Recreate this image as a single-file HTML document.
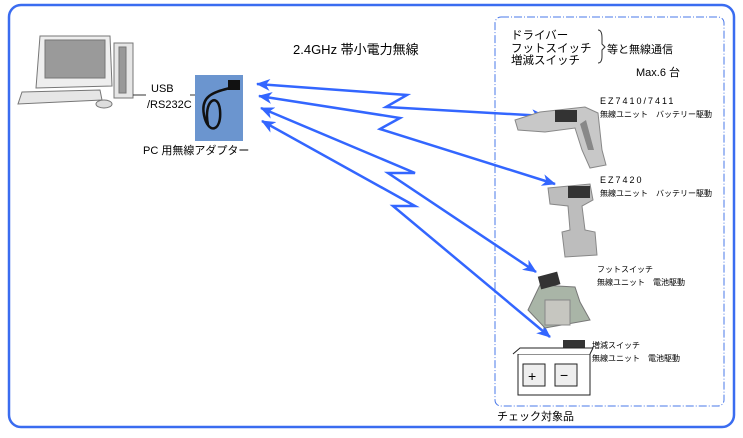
<!DOCTYPE html>
<html><head><meta charset="utf-8"><style>
html,body{margin:0;padding:0;background:#fff;}
svg{display:block;font-family:"Liberation Sans","Noto Sans CJK JP",sans-serif;}
</style></head><body>
<svg width="743" height="438" viewBox="0 0 743 438" xmlns="http://www.w3.org/2000/svg">
<defs>
<marker id="ah" viewBox="0 0 14 12" refX="13" refY="6" markerWidth="14" markerHeight="12" markerUnits="userSpaceOnUse" orient="auto-start-reverse">
<path d="M0,0 L14,6 L0,12 L4,6 Z" fill="#3366ff"/>
</marker>
</defs>
<rect x="0" y="0" width="743" height="438" fill="#fff"/>
<rect x="9" y="5" width="725" height="422" rx="12" fill="none" stroke="#3a6cf0" stroke-width="2.5"/>
<rect x="495" y="17" width="229" height="389" rx="6" fill="none" stroke="#4a78e8" stroke-width="1" stroke-dasharray="8,2,1,2"/>

<!-- computer -->
<g stroke="#777" stroke-width="1">
<path d="M40,36 L110,36 L112,86 L36,88 Z" fill="#eee"/>
<rect x="45" y="40" width="60" height="38" fill="#9a9a9a"/>
<path d="M22,92 L100,90 L102,100 L18,104 Z" fill="#e6e6e6"/>
<ellipse cx="104" cy="104" rx="8" ry="4" fill="#ddd"/>
<rect x="114" y="43" width="19" height="55" fill="#e6e6e6"/>
<rect x="119" y="47" width="7" height="46" fill="#999"/>
</g>
<line x1="133" y1="95" x2="146" y2="95" stroke="#333"/>
<text x="151" y="92" font-size="11">USB</text>
<text x="147" y="108" font-size="11">/RS232C</text>
<line x1="190" y1="95" x2="200" y2="95" stroke="#333"/>

<!-- adapter -->
<rect x="195" y="75" width="48" height="66" fill="#6b95cf"/>
<rect x="228" y="80" width="12" height="10" fill="#111"/>
<path d="M230,88 C215,92 200,95 204,115 C208,135 222,132 220,110 C218,92 203,100 208,125" fill="none" stroke="#111" stroke-width="2.5"/>
<text x="143" y="154" font-size="11">PC 用無線アダプター</text>

<text x="293" y="54" font-size="13">2.4GHz 帯小電力無線</text>

<!-- arrows -->
<g fill="none" stroke="#3366ff" stroke-width="2.5" marker-start="url(#ah)" marker-end="url(#ah)">
<path d="M257,84 L407,95 L386,107 L545,116"/>
<path d="M259,96 L400,118 L380,129 L555,184"/>
<path d="M261,108 L415,173 L388,173 L536,272"/>
<path d="M262,121 L415,206 L393,206 L550,337"/>
</g>

<!-- top right text -->
<text x="511" y="39" font-size="11.5">ドライバー</text>
<text x="511" y="52" font-size="11.5">フットスイッチ</text>
<text x="511" y="64" font-size="11.5">増減スイッチ</text>
<path d="M598,30 Q602,30 602,38 L602,44 L605,47 L602,50 L602,56 Q602,63 598,63" fill="none" stroke="#333"/>
<text x="607" y="53" font-size="11">等と無線通信</text>
<text x="636" y="76" font-size="11">Max.6 台</text>

<!-- driver 1 -->
<path d="M515,120 L540,112 L585,107 L598,113 L602,150 L606,165 L590,168 L582,150 L575,128 L545,132 L518,130 Z" fill="#c8c8c8" stroke="#888"/>
<path d="M586,120 L594,150 L588,150 L580,124 Z" fill="#888"/>
<rect x="555" y="110" width="22" height="12" fill="#333"/>
<text x="600" y="104" font-size="9" letter-spacing="2">EZ7410/7411</text>
<text x="600" y="117" font-size="8">無線ユニット　バッテリー駆動</text>

<!-- driver 2 -->
<path d="M548,188 L590,184 L593,200 L582,206 L585,230 L595,232 L597,255 L565,257 L562,232 L570,230 L568,206 L550,204 Z" fill="#bdbdbd" stroke="#888"/>
<rect x="568" y="186" width="22" height="12" fill="#333"/>
<text x="600" y="183" font-size="9" letter-spacing="2">EZ7420</text>
<text x="600" y="196" font-size="8">無線ユニット　バッテリー駆動</text>

<!-- foot switch -->
<path d="M528,310 L540,285 L575,287 L580,302 L590,320 L545,328 Z" fill="#a9b5a7" stroke="#777"/>
<rect x="545" y="300" width="25" height="25" fill="#c6c6c0" stroke="#888"/>
<rect x="539" y="274" width="20" height="13" fill="#333" transform="rotate(-15 549 280)"/>
<text x="597" y="272" font-size="8">フットスイッチ</text>
<text x="597" y="285" font-size="8">無線ユニット　電池駆動</text>

<!-- +/- switch -->
<rect x="563" y="340" width="22" height="10" fill="#333"/>
<path d="M518,354 L590,354 L590,395 L518,395 Z" fill="#fff" stroke="#222"/>
<path d="M513,354 L520,348 L593,348 L590,354" fill="#fff" stroke="#222"/>
<rect x="523" y="364" width="22" height="22" fill="#eee" stroke="#222"/>
<rect x="555" y="364" width="22" height="22" fill="#eee" stroke="#222"/>
<text x="528" y="381" font-size="14">+</text>
<text x="560" y="380" font-size="14">−</text>
<text x="592" y="348" font-size="8">増減スイッチ</text>
<text x="592" y="361" font-size="8">無線ユニット　電池駆動</text>

<text x="497" y="420" font-size="11">チェック対象品</text>
</svg>
</body></html>
